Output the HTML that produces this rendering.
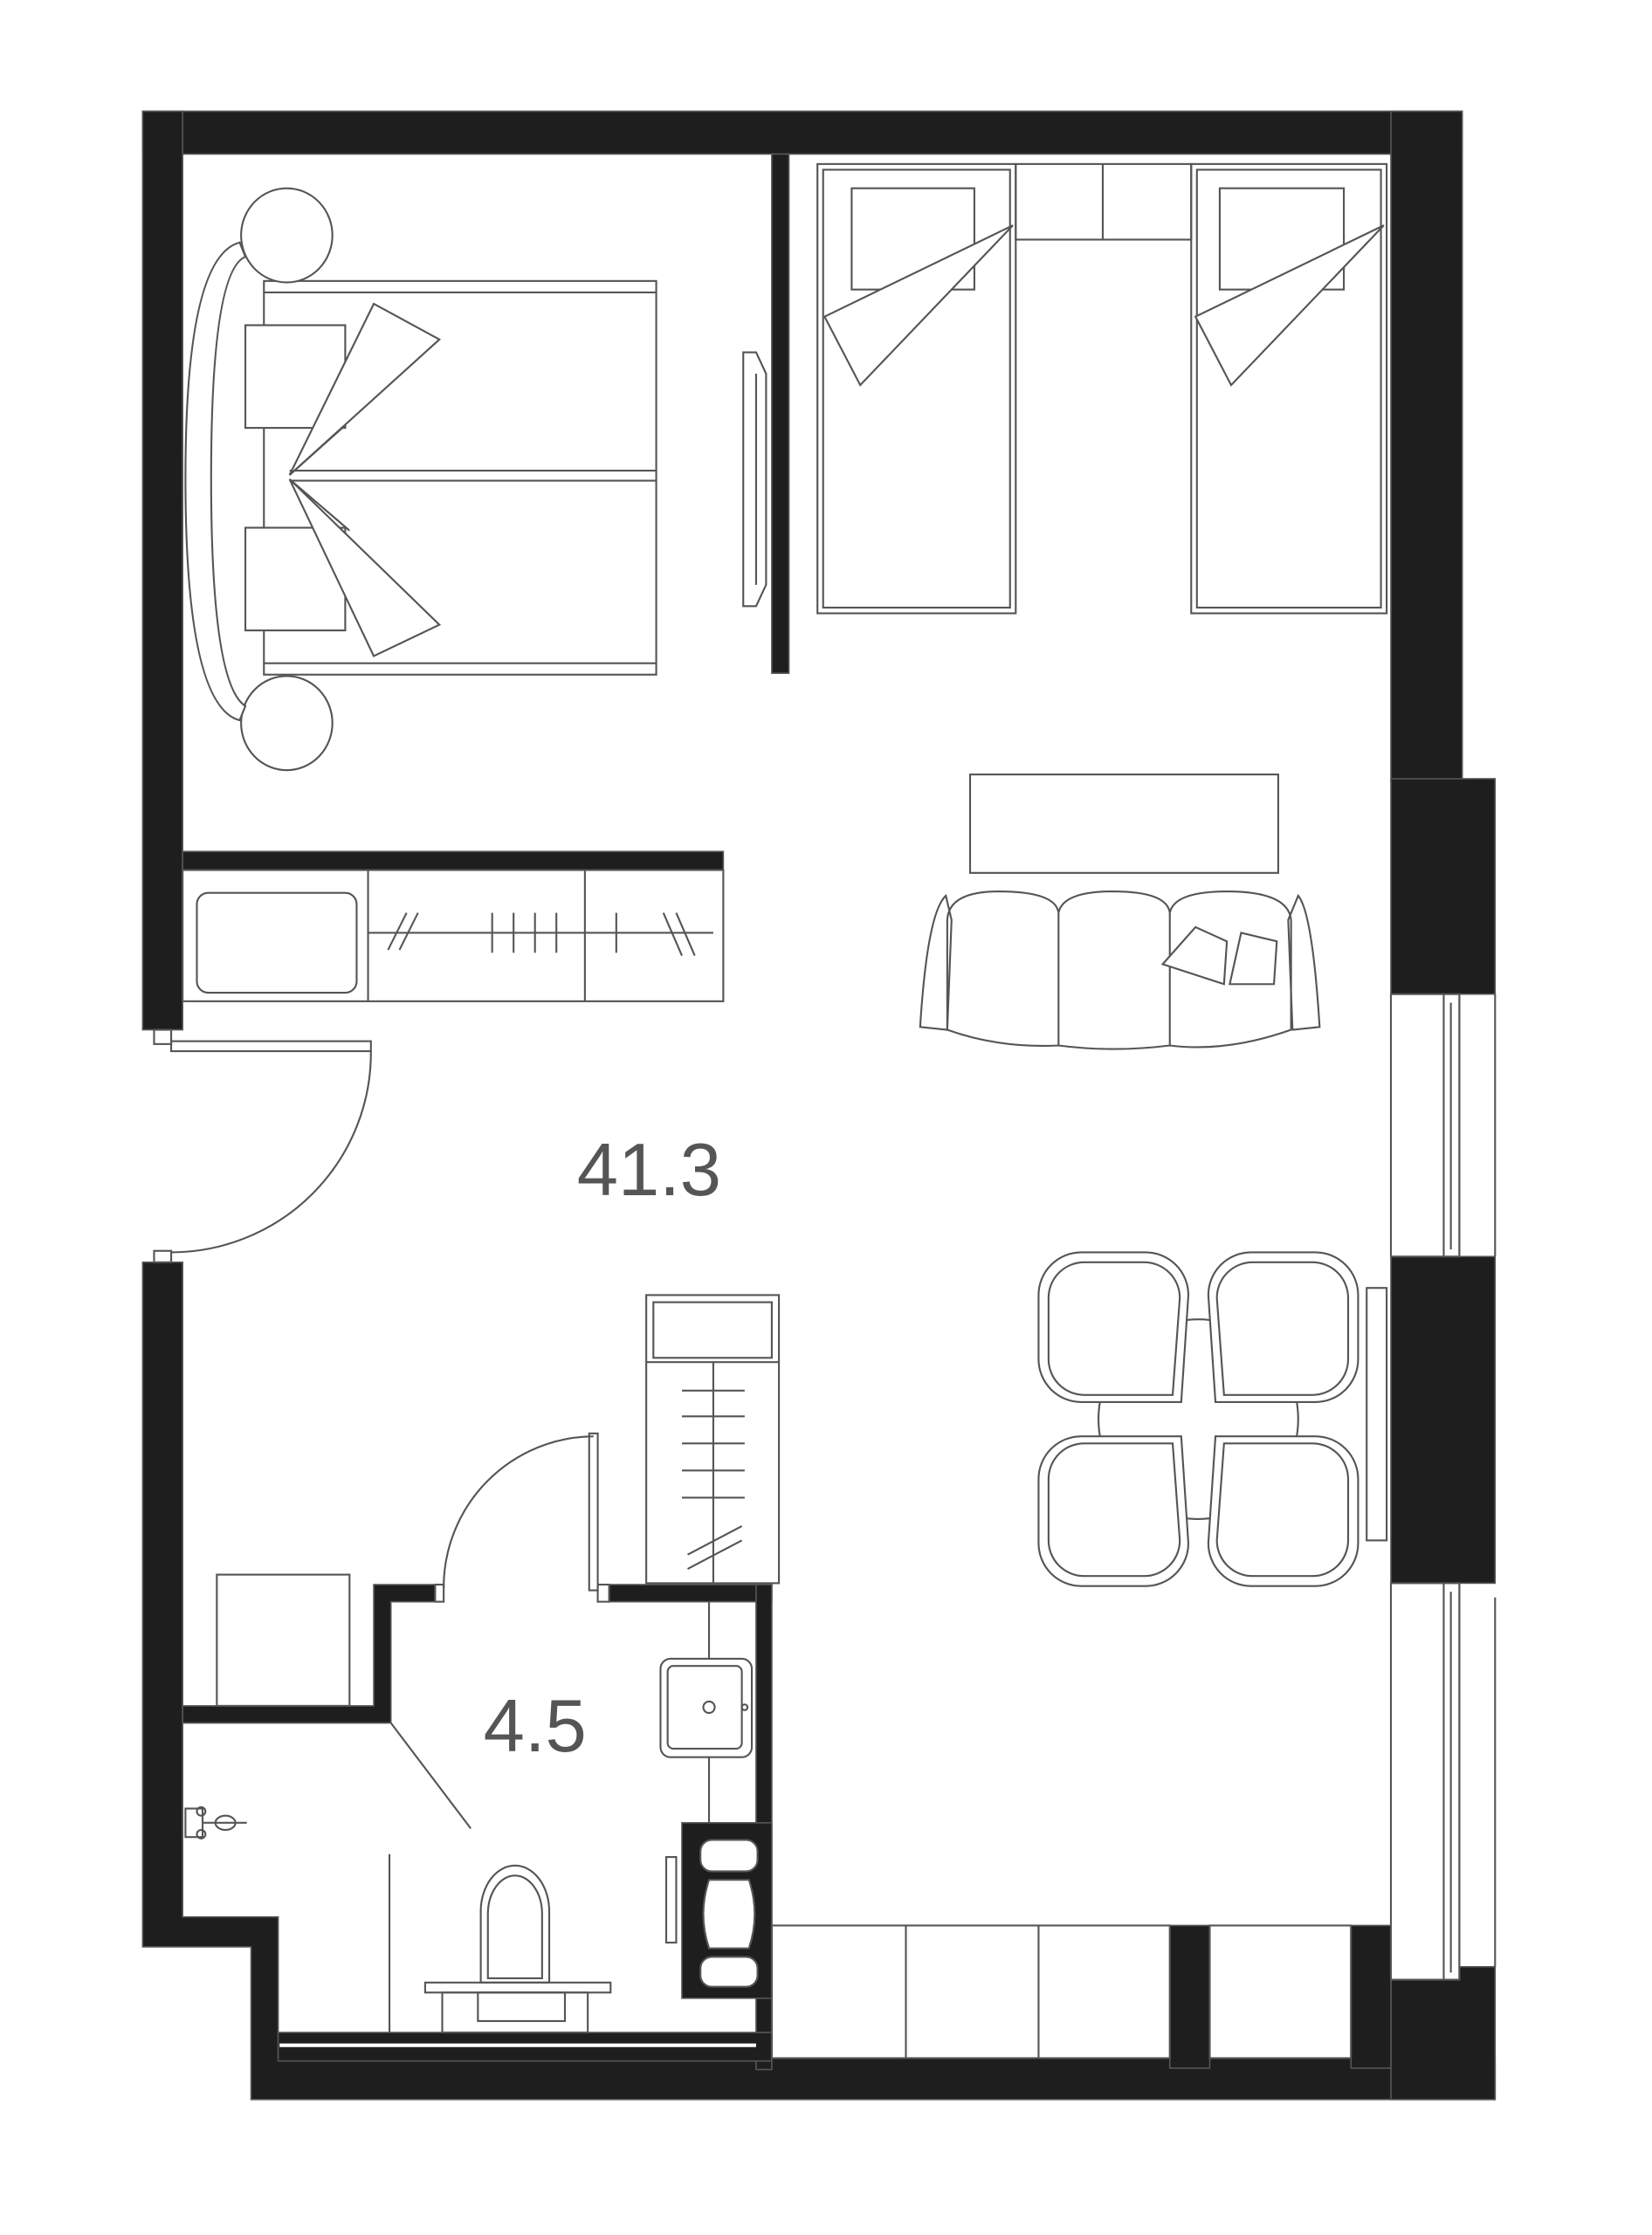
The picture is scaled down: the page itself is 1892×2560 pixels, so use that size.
<!DOCTYPE html>
<html><head><meta charset="utf-8"><style>
html,body{margin:0;padding:0;background:#fff}
svg{display:block}
</style></head><body>
<svg width="1892" height="2560" viewBox="0 0 1158 1567" preserveAspectRatio="none" xmlns="http://www.w3.org/2000/svg">
<g fill="#1e1e1e" stroke="#555" stroke-width="1">
<!-- outer walls -->
<rect x="100" y="78" width="925" height="30"/>
<rect x="100" y="78" width="28" height="644"/>
<polygon points="100,885 128,885 128,1344 195,1344 195,1443 1048,1443 1048,1472 176,1472 176,1365 100,1365"/>
<rect x="975" y="78" width="50" height="470"/>
<rect x="975" y="546" width="73" height="151"/>
<rect x="975" y="881" width="73" height="229"/>
<polygon points="975,1388 1023,1388 1023,1379 1048,1379 1048,1472 975,1472"/>
<rect x="947" y="1350" width="28" height="100"/>
<rect x="820" y="1350" width="28" height="100"/>
<!-- inner walls -->
<rect x="541" y="108" width="12" height="364"/>
<rect x="128" y="597" width="379" height="13"/>
<polygon points="128,1196 262,1196 262,1111 305,1111 305,1123 274,1123 274,1208 128,1208"/>
<rect x="427" y="1111" width="114" height="12"/>
<rect x="530" y="1111" width="11" height="340"/>
<rect x="195" y="1425" width="346" height="20"/>
<rect x="478" y="1278" width="63" height="123"/>
</g>
<g fill="none" stroke="#555" stroke-width="1.3">
<!-- windows -->
<rect x="975" y="697" width="48" height="184" fill="#fff"/>
<line x1="1012" y1="697" x2="1012" y2="881"/><line x1="1017" y1="703" x2="1017" y2="876"/><line x1="1023" y1="697" x2="1023" y2="881"/>
<rect x="975" y="1110" width="48" height="278" fill="#fff"/>
<line x1="1012" y1="1110" x2="1012" y2="1388"/><line x1="1017" y1="1116" x2="1017" y2="1383"/><line x1="1023" y1="1110" x2="1023" y2="1388"/>
<line x1="1048" y1="697" x2="1048" y2="881"/><line x1="1048" y1="1120" x2="1048" y2="1379"/>
<!-- bath floor line -->
<line x1="196" y1="1434" x2="530" y2="1434" stroke="#fff" stroke-width="2.5"/>
<!-- entrance door -->
<rect x="120" y="730" width="140" height="7"/>
<rect x="108" y="722" width="12" height="10"/><rect x="108" y="877" width="12" height="8"/>
<path d="M260,737 A140,140 0 0 1 120,878"/>
<!-- bath door -->
<rect x="413" y="1005" width="6" height="110"/>
<path d="M416,1007 A106,106 0 0 0 311,1113"/>
<rect x="305" y="1111" width="6" height="12"/><rect x="419" y="1111" width="8" height="12"/>
<!-- double bed -->
<rect x="185" y="197" width="275" height="276"/>
<line x1="185" y1="205" x2="460" y2="205"/>
<line x1="185" y1="465" x2="460" y2="465"/>
<line x1="203" y1="330" x2="460" y2="330"/><line x1="203" y1="337" x2="460" y2="337"/>
<rect x="172" y="228" width="70" height="72" fill="#fff"/>
<rect x="172" y="370" width="70" height="72" fill="#fff"/>
<polygon points="203,333 262,213 308,238" fill="#fff"/>
<polygon points="203,336 308,438 262,460" fill="#fff"/>
<line x1="203" y1="333" x2="240" y2="300"/>
<line x1="203" y1="336" x2="245" y2="372"/>
<ellipse cx="201" cy="165" rx="32" ry="33" fill="#fff"/>
<ellipse cx="201" cy="507" rx="32" ry="33" fill="#fff"/>
<path d="M168,170 Q130,180 130,335 Q130,495 168,505 L172,495 Q148,480 148,335 Q148,190 172,180 Z" fill="#fff"/>
<!-- TV left -->
<path d="M521,247 L530,247 L537,262 L537,410 L530,425 L521,425 Z"/>
<line x1="530" y1="262" x2="530" y2="410"/>
<!-- kids beds -->
<rect x="573" y="115" width="139" height="315"/><rect x="577" y="119" width="131" height="307"/>
<rect x="597" y="132" width="86" height="71"/>
<polygon points="578,222 710,158 603,270" fill="#fff"/>
<rect x="835" y="115" width="137" height="315"/><rect x="839" y="119" width="129" height="307"/>
<rect x="855" y="132" width="87" height="71"/>
<polygon points="838,222 970,158 863,270" fill="#fff"/>
<rect x="712" y="115" width="123" height="53"/>
<line x1="773" y1="115" x2="773" y2="168"/>
<!-- TV stand -->
<rect x="680" y="543" width="216" height="69"/>
<!-- sofa -->
<path d="M663,628 Q650,640 645,720 L664,722 L667,645 Z"/>
<path d="M910,628 Q920,640 925,720 L906,722 L903,645 Z"/>
<path d="M664,722 L664,645 Q665,625 700,625 Q740,625 742,640 Q745,625 780,625 Q818,625 820,640 Q823,625 860,625 Q903,625 905,645 L905,722"/>
<path d="M664,722 Q700,735 742,733 Q780,738 820,733 Q860,738 905,722"/>
<line x1="742" y1="640" x2="742" y2="733"/><line x1="820" y1="640" x2="820" y2="733"/>
<path d="M815,676 L838,650 L860,660 L858,690 Z" fill="#fff"/>
<path d="M862,690 L870,654 L895,660 L893,690 Z" fill="#fff"/>
<!-- wardrobe -->
<rect x="128" y="610" width="379" height="92"/>
<rect x="138" y="626" width="112" height="70" rx="8"/>
<line x1="258" y1="610" x2="258" y2="702"/><line x1="410" y1="610" x2="410" y2="702"/>
<line x1="258" y1="654" x2="500" y2="654"/>
<line x1="272" y1="666" x2="285" y2="640"/><line x1="280" y1="666" x2="293" y2="640"/>
<line x1="345" y1="640" x2="345" y2="668"/><line x1="360" y1="640" x2="360" y2="668"/><line x1="375" y1="640" x2="375" y2="668"/><line x1="390" y1="640" x2="390" y2="668"/>
<line x1="432" y1="640" x2="432" y2="668"/>
<line x1="478" y1="670" x2="465" y2="640"/><line x1="487" y1="670" x2="474" y2="640"/>
<!-- dining -->
<circle cx="840" cy="995" r="70"/>
<rect x="958" y="903" width="14" height="177" fill="#fff"/>
<g fill="#fff">
<path d="M828,983 H758 A30,30 0 0 1 728,953 V908 A30,30 0 0 1 758,878 H803 A30,30 0 0 1 833,908 Z" transform="rotate(0)"/>
<path d="M822,978 H760 A25,25 0 0 1 735,953 V910 A25,25 0 0 1 760,885 H802 A25,25 0 0 1 827,910 Z"/>
<path d="M852,983 H922 A30,30 0 0 0 952,953 V908 A30,30 0 0 0 922,878 H877 A30,30 0 0 0 847,908 Z"/>
<path d="M858,978 H920 A25,25 0 0 0 945,953 V910 A25,25 0 0 0 920,885 H878 A25,25 0 0 0 853,910 Z"/>
<path d="M828,1007 H758 A30,30 0 0 0 728,1037 V1082 A30,30 0 0 0 758,1112 H803 A30,30 0 0 0 833,1082 Z"/>
<path d="M822,1012 H760 A25,25 0 0 0 735,1037 V1080 A25,25 0 0 0 760,1105 H802 A25,25 0 0 0 827,1080 Z"/>
<path d="M852,1007 H922 A30,30 0 0 1 952,1037 V1082 A30,30 0 0 1 922,1112 H877 A30,30 0 0 1 847,1082 Z"/>
<path d="M858,1012 H920 A25,25 0 0 1 945,1037 V1080 A25,25 0 0 1 920,1105 H878 A25,25 0 0 1 853,1080 Z"/>
</g>
<!-- cabinet -->
<rect x="453" y="908" width="93" height="202"/>
<rect x="458" y="913" width="83" height="39"/>
<line x1="453" y1="955" x2="546" y2="955"/>
<line x1="500" y1="955" x2="500" y2="1110"/>
<line x1="478" y1="975" x2="522" y2="975"/><line x1="478" y1="993" x2="522" y2="993"/><line x1="478" y1="1012" x2="522" y2="1012"/><line x1="478" y1="1031" x2="522" y2="1031"/><line x1="478" y1="1050" x2="522" y2="1050"/>
<line x1="482" y1="1090" x2="520" y2="1070"/><line x1="482" y1="1100" x2="520" y2="1080"/>
<!-- box near bath -->
<rect x="152" y="1104" width="93" height="92"/>
<!-- bathroom -->
<rect x="463" y="1163" width="64" height="69" rx="7"/>
<rect x="468" y="1168" width="52" height="58" rx="4"/>
<circle cx="497" cy="1197" r="4"/><circle cx="522" cy="1197" r="2"/>
<line x1="497" y1="1123" x2="497" y2="1163"/><line x1="497" y1="1232" x2="497" y2="1278"/>
<line x1="274" y1="1208" x2="330" y2="1282"/>
<line x1="273" y1="1300" x2="273" y2="1425"/>
<path d="M337,1390 V1340 A24,32 0 0 1 385,1340 V1390 Z" fill="#fff"/>
<path d="M342,1387 V1342 A19,27 0 0 1 380,1342 V1387 Z"/>
<rect x="298" y="1390" width="130" height="7"/>
<rect x="310" y="1397" width="102" height="28"/>
<rect x="335" y="1397" width="61" height="20"/>
<g fill="#fff">
<rect x="491" y="1290" width="40" height="22" rx="8"/>
<rect x="491" y="1372" width="40" height="21" rx="8"/>
<path d="M497,1318 H525 Q533,1342 525,1366 H497 Q489,1342 497,1318 Z"/>
</g>
<rect x="467" y="1302" width="7" height="60"/>
<rect x="130" y="1268" width="12" height="20"/>
<circle cx="141" cy="1270" r="3"/><circle cx="141" cy="1286" r="3"/>
<line x1="142" y1="1278" x2="173" y2="1278"/><ellipse cx="158" cy="1278" rx="7" ry="5"/>
<!-- kitchen -->
<rect x="541" y="1350" width="279" height="93"/>
<line x1="635" y1="1350" x2="635" y2="1443"/><line x1="728" y1="1350" x2="728" y2="1443"/>
<rect x="848" y="1350" width="99" height="93"/>
</g>
<g fill="#555" font-family="Liberation Sans, sans-serif" font-size="52" text-anchor="middle">
<text x="455" y="838">41.3</text>
<text x="375" y="1228">4.5</text>
</g>
</svg>
</body></html>
